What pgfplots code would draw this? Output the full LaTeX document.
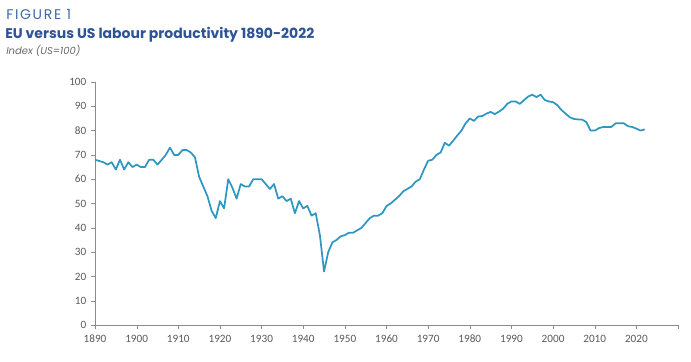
\documentclass[border=0pt]{standalone}
\usepackage{fontspec}
\usepackage{pgfplots}
\pgfplotsset{compat=1.18}
\setmainfont{Carlito}
\newfontfamily\titlefont{Poppins}
\newfontfamily\figfont[LetterSpace=12]{Poppins}
\definecolor{linec}{RGB}{47,150,194}
\definecolor{titlec}{RGB}{44,84,150}
\definecolor{figc}{RGB}{62,104,164}
\definecolor{subc}{RGB}{105,105,105}
\definecolor{tickc}{RGB}{89,89,89}
\definecolor{axc}{RGB}{140,140,140}
\begin{document}
\begin{tikzpicture}[x=0.75pt,y=0.75pt]
\useasboundingbox (0,0) rectangle (691,-361);
\node[anchor=base west,inner sep=0pt,text=figc,font=\figfont\fontsize{10.5pt}{12pt}\selectfont] at (6,-19.3) {FIGURE 1};
\node[anchor=base west,inner sep=0pt,text=titlec,font=\titlefont\bfseries\fontsize{10.5pt}{12pt}\selectfont] at (5,-38.3) {EU versus US labour productivity 1890-2022};
\node[anchor=base west,inner sep=0pt,text=subc,font=\titlefont\itshape\fontsize{7.5pt}{9pt}\selectfont] at (6,-54) {Index (US=100)};
\begin{axis}[
  at={(71.25pt,-243.75pt)}, anchor=south west,
  scale only axis, width=437.25pt, height=182.25pt,
  xmin=1890, xmax=2030, ymin=0, ymax=100,
  axis lines=left,
  axis line style={draw=axc,-},
  tick style={draw=axc},
  tick align=outside,
  major tick length=3pt,
  xtick={1890,1900,...,2030},
  xticklabels={1890,1900,1910,1920,1930,1940,1950,1960,1970,1980,1990,2000,2010,2020,{}},
  ytick={0,10,...,100},
  ticklabel style={font=\fontsize{8.4pt}{10pt}\selectfont, text=tickc},
  /pgf/number format/assume math mode=true,
  xticklabel style={yshift=-1pt},
]
\addplot[linec, line width=1.3pt, line join=round] coordinates {
(1890,68) (1891,67.5) (1892,67) (1893,66) (1894,67) (1895,64) (1896,68) (1897,64) (1898,67) (1899,65)
(1900,66) (1901,65) (1902,65) (1903,68) (1904,68) (1905,66) (1906,68) (1907,70) (1908,73) (1909,70)
(1910,70) (1911,72) (1912,72) (1913,71) (1914,69) (1915,61) (1916,57) (1917,53) (1918,47) (1919,44)
(1920,51) (1921,48) (1922,60) (1923,56.5) (1924,52) (1925,58) (1926,57) (1927,57) (1928,60) (1929,60)
(1930,60) (1931,58) (1932,56) (1933,58) (1934,52) (1935,53) (1936,51) (1937,52) (1938,46) (1939,51)
(1940,48) (1941,49) (1942,45) (1943,46) (1944,37) (1945,22) (1946,30) (1947,34) (1948,35) (1949,36.5)
(1950,37) (1951,38) (1952,38) (1953,39) (1954,40) (1955,42) (1956,44) (1957,45) (1958,45) (1959,46)
(1960,49) (1961,50) (1962,51.5) (1963,53) (1964,55) (1965,56) (1966,57) (1967,59) (1968,60) (1969,64)
(1970,67.6) (1971,68) (1972,70) (1973,71) (1974,75) (1975,73.8) (1976,75.8) (1977,78) (1978,80) (1979,83)
(1980,85) (1981,84) (1982,85.8) (1983,86) (1984,87) (1985,87.7) (1986,86.8) (1987,87.8) (1988,89) (1989,91)
(1990,92) (1991,92) (1992,91) (1993,92.5) (1994,94) (1995,94.8) (1996,93.8) (1997,94.8) (1998,92.6) (1999,92)
(2000,91.7) (2001,90.5) (2002,88.5) (2003,87) (2004,85.5) (2005,84.8) (2006,84.6) (2007,84.5) (2008,83.5) (2009,80)
(2010,80) (2011,81) (2012,81.5) (2013,81.5) (2014,81.5) (2015,83) (2016,83) (2017,83) (2018,81.8) (2019,81.5)
(2020,80.8) (2021,80) (2022,80.5)
};
\end{axis}
\end{tikzpicture}
\end{document}
